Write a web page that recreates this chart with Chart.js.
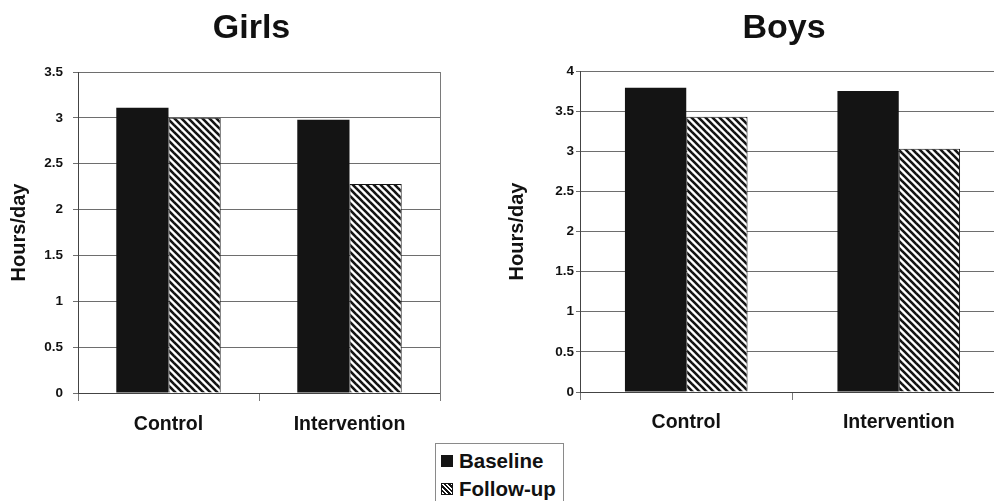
<!DOCTYPE html>
<html>
<head>
<meta charset="utf-8">
<script src="https://cdn.jsdelivr.net/npm/chart.js@4/dist/chart.umd.min.js"></script>
<style>
  html, body { margin: 0; padding: 0; background: #fff; overflow: hidden; }
  body { width: 994px; height: 501px; position: relative; }
  canvas { position: absolute; top: 0; }
  #girls { left: 0; }
  #boys { left: 497px; }
  #legend {
    position: absolute; left: 435px; top: 443px; width: 129px; height: 70px;
    border: 1px solid #8a8a8a; box-sizing: border-box;
    font-family: 'Liberation Sans', Arial, sans-serif; font-weight: bold; font-size: 20.5px; color: #111;
  }
  .row { position: absolute; left: 5px; height: 24px; line-height: 24px; white-space: nowrap; }
  .sw { display: inline-block; width: 12px; height: 12px; vertical-align: middle; margin-right: 6px; position: relative; top: -2px; box-sizing: border-box; }
  .solid { background: #141414; }
  .hatch { border: 1px solid #141414;
    background: repeating-linear-gradient(45deg, #fff 0 1.6px, #141414 1.6px 3.2px); }
</style>
</head>
<body>
<canvas id="girls" width="503" height="440"></canvas>
<canvas id="boys" width="574" height="440"></canvas>
<div id="legend">
  <div class="row" style="top:5px"><span class="sw solid"></span>Baseline</div>
  <div class="row" style="top:33px"><span class="sw hatch"></span>Follow-up</div>
</div>
<script>
// Hours/day watched, by group and time point
const categories = ['Control', 'Intervention'];
const seriesNames = ['Baseline', 'Follow-up'];
const girlsBaseline = [3.11, 2.98];
const girlsFollowUp = [3.00, 2.28];
const boysBaseline = [3.79, 3.75];
const boysFollowUp = [3.43, 3.03];
const girlsAxisMax = 3.5;
const boysAxisMax = 4;
const axisStep = 0.5;

const FONT = "'Liberation Sans', Arial, sans-serif";
const INK = '#111';

// diagonal "\" stripes for the follow-up bars
function stripePattern() {
  const p = 7;
  const c = document.createElement('canvas');
  c.width = p; c.height = p;
  const g = c.getContext('2d');
  g.fillStyle = '#fff';
  g.fillRect(0, 0, p, p);
  g.strokeStyle = '#141414';
  g.lineWidth = 2.6;
  for (const off of [-p, 0, p]) {
    g.beginPath();
    g.moveTo(-1, -1 + off);
    g.lineTo(p + 1, p + 1 + off);
    g.stroke();
  }
  return g.createPattern(c, 'repeat');
}

function panel(id, titleText, baseline, followUp, axisMax, geo) {
  return new Chart(document.getElementById(id), {
    type: 'bar',
    data: {
      labels: categories,
      datasets: [
        { label: seriesNames[0], data: baseline, backgroundColor: '#141414',
          borderColor: '#141414', borderWidth: 0 },
        { label: seriesNames[1], data: followUp, backgroundColor: stripePattern(),
          borderColor: '#141414', borderWidth: 1 }
      ]
    },
    options: {
      responsive: false,
      animation: false,
      events: [],
      layout: { padding: 0 },
      datasets: { bar: { categoryPercentage: 0.577, barPercentage: 1 } },
      plugins: {
        legend: { display: false },
        tooltip: { enabled: false },
        title: {
          display: true, text: titleText, color: INK,
          font: { family: FONT, size: 34, weight: 'bold' },
          padding: { top: 8, bottom: geo.titleBottom }
        }
      },
      scales: {
        x: {
          grid: { offset: true, drawOnChartArea: false, drawTicks: true, tickLength: 8, color: '#7a7a7a' },
          border: { color: '#444' },
          ticks: { color: INK, font: { family: FONT, size: 19.5, weight: 'bold' }, padding: geo.xPad },
          afterFit: s => { s.height = geo.xHeight; }
        },
        y: {
          min: 0, max: axisMax,
          ticks: { stepSize: axisStep, color: INK, padding: geo.yPad,
                   font: { family: FONT, size: 13.5, weight: 'bold' },
                   callback: v => String(+v.toFixed(1)) },
          grid: { color: '#6e6e6e', tickLength: geo.tick },
          border: { color: '#444' },
          title: { display: true, text: 'Hours/day', color: INK,
                   font: { family: FONT, size: 20, weight: 'bold' },
                   padding: { top: geo.titlePad, bottom: 0 } },
          afterFit: s => { s.width = geo.yWidth; }
        },
        yRight: {
          position: 'right', min: 0, max: axisMax,
          ticks: { display: false },
          grid: { drawOnChartArea: false, drawTicks: false },
          border: { color: '#7a7a7a' },
          afterFit: s => { s.width = geo.rightWidth; }
        }
      }
    }
  });
}

panel('girls', 'Girls', girlsBaseline, girlsFollowUp, girlsAxisMax,
  { titleBottom: 23.2, xHeight: 47, xPad: 12, yPad: 10, tick: 5, yWidth: 78, titlePad: 7, rightWidth: 63 });
panel('boys', 'Boys', boysBaseline, boysFollowUp, boysAxisMax,
  { titleBottom: 22.2, xHeight: 48, xPad: 11, yPad: 2, tick: 4, yWidth: 83, titlePad: 8, rightWidth: 66 });
</script>
</body>
</html>
